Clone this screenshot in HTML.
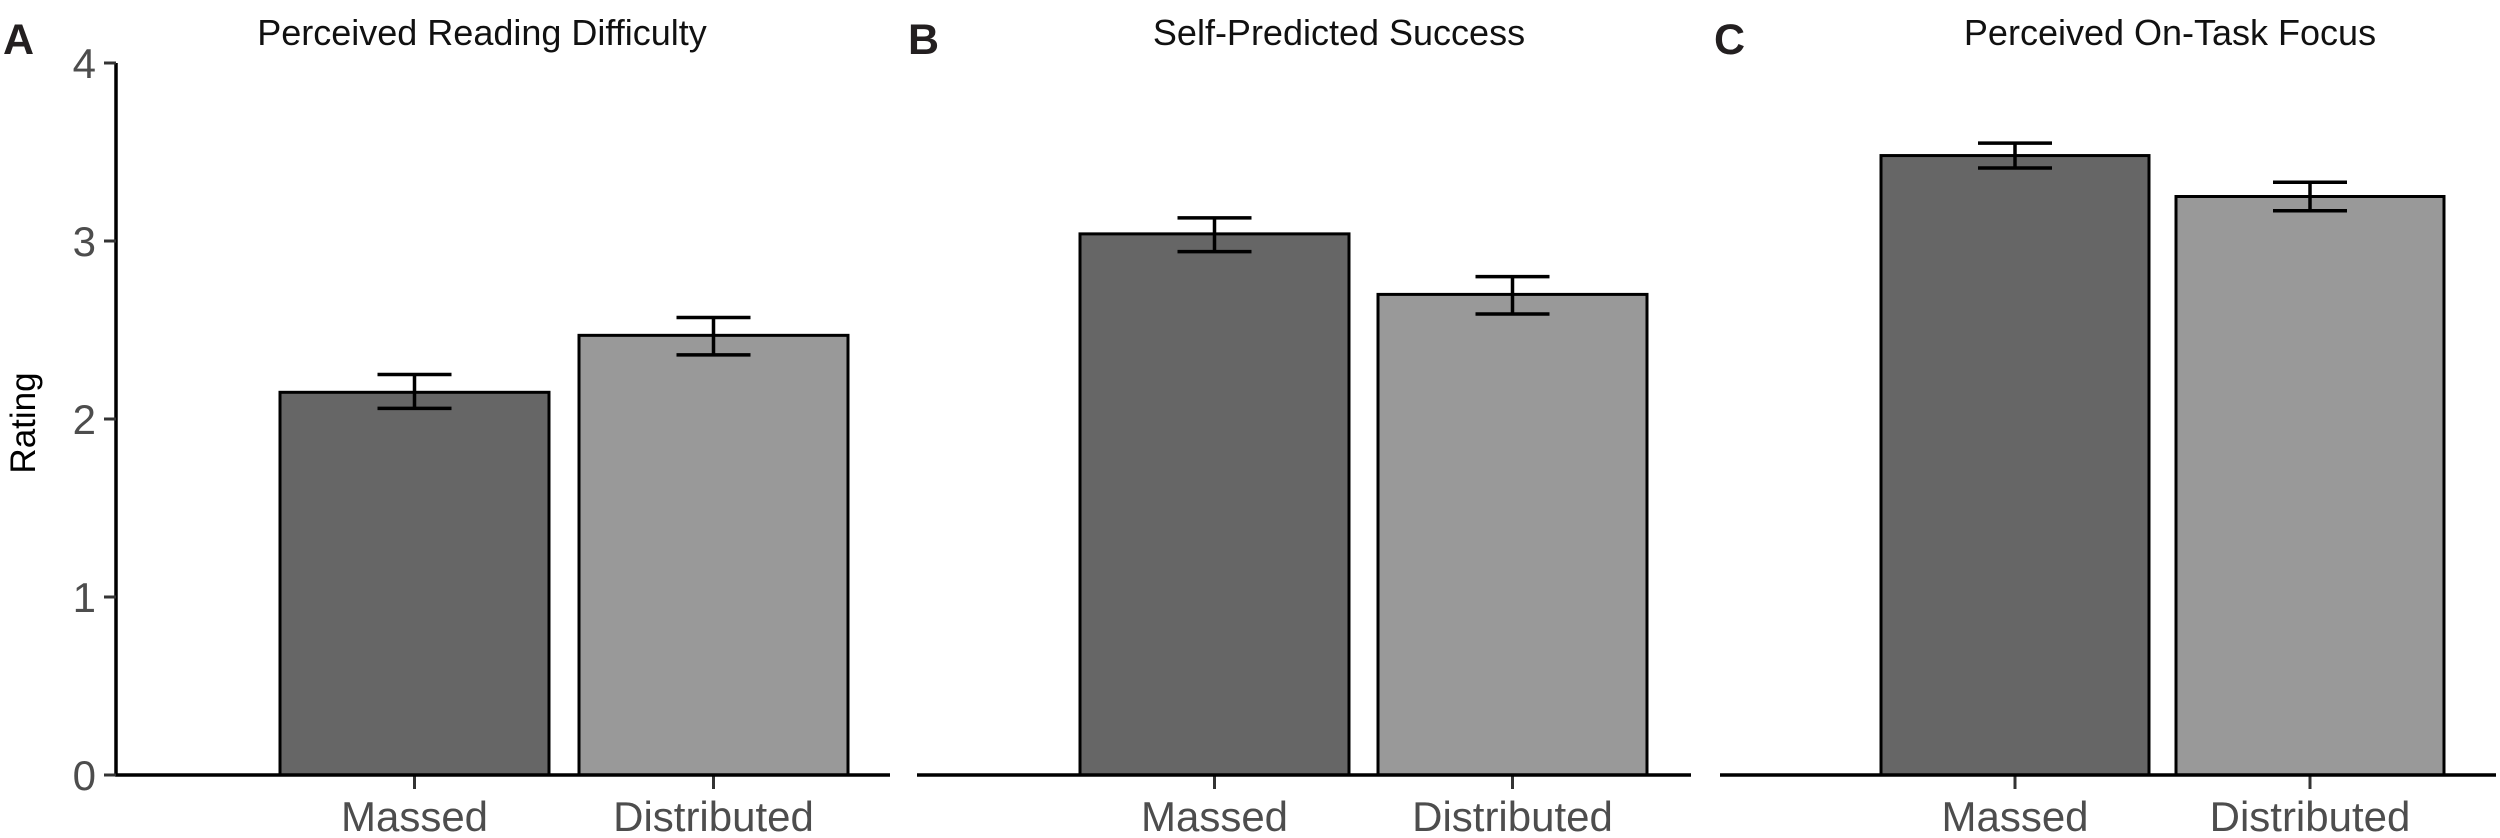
<!DOCTYPE html>
<html><head><meta charset="utf-8"><style>
html,body{margin:0;padding:0;background:#fff;}
svg{display:block;font-family:"Liberation Sans",Arial,sans-serif;}
</style></head><body>
<svg id="chart" width="2500" height="838" viewBox="0 0 2500 838"></svg>
<script>
const categories = ["Massed", "Distributed"];
const panelTitles = ["Perceived Reading Difficulty", "Self-Predicted Success", "Perceived On-Task Focus"];
const panelLetters = ["A", "B", "C"];
const meansA = [2.15, 2.47];
const meansB = [3.04, 2.70];
const meansC = [3.48, 3.25];
const lowA = [2.06, 2.36];
const highA = [2.25, 2.57];
const lowB = [2.94, 2.59];
const highB = [3.13, 2.80];
const lowC = [3.41, 3.17];
const highC = [3.55, 3.33];
const yTicks = [0, 1, 2, 3, 4];
const yTickLabels = ["0", "1", "2", "3", "4"];

const svg = document.getElementById('chart');
const NS = 'http://www.w3.org/2000/svg';
const y0 = 775, pxPerUnit = 178;
function yScale(v){ return y0 - v * pxPerUnit; }
const panels = [
  {lineStart:115, lineEnd:890, barStart:280, band:299, barW:269, titleX:482, letterX:3, means:meansA, low:lowA, high:highA},
  {lineStart:917, lineEnd:1691, barStart:1080, band:298, barW:269, titleX:1339, letterX:908, means:meansB, low:lowB, high:highB},
  {lineStart:1720, lineEnd:2496, barStart:1881, band:295, barW:268, titleX:2170, letterX:1714, means:meansC, low:lowC, high:highC}
];
const fills = ["#666666", "#999999"];
function mk(tag, attrs, parent){
  const e = document.createElementNS(NS, tag);
  for (const k in attrs) e.setAttribute(k, attrs[k]);
  (parent || svg).appendChild(e);
  return e;
}
panels.forEach((p, pi) => {
  const g = mk('g', {});
  
  
  const lt = mk('text', {x:p.letterX, y:54, 'font-size':43, 'font-weight':'bold', fill:'#231f20'}, g);
  lt.textContent = panelLetters[pi];
  
  
  const tt = mk('text', {x:p.titleX, y:45, 'font-size':36, 'text-anchor':'middle', fill:'#111'}, g);
  tt.textContent = panelTitles[pi];
  
  
  categories.forEach((c, i) => {
    const x = p.barStart + i * p.band;
    const v = p.means[i];
    const r = mk('rect', {x:x, y:yScale(v), width:p.barW, height:y0 - yScale(v), fill:fills[i], stroke:'#000', 'stroke-width':3}, g);
    
    
    const cx = x + p.barW / 2;
    const eb = mk('path', {d:`M${cx-37},${yScale(p.high[i])}H${cx+37}M${cx},${yScale(p.high[i])}V${yScale(p.low[i])}M${cx-37},${yScale(p.low[i])}H${cx+37}`, stroke:'#000', 'stroke-width':3.5, fill:'none'}, g);
    
    
    const tk = mk('line', {x1:cx, x2:cx, y1:y0, y2:y0 + 14, stroke:'#333', 'stroke-width':3}, g);
    
    
    const tl = mk('text', {x:cx, y:831, 'font-size':42, 'text-anchor':'middle', fill:'#4d4d4d'}, g);
    tl.textContent = c;
    
    
  });
  const ax = mk('line', {x1:p.lineStart, x2:p.lineEnd, y1:y0, y2:y0, stroke:'#000', 'stroke-width':3.5}, g);
  
  
});
const ya = mk('line', {x1:116, x2:116, y1:yScale(4), y2:y0 + 1.5, stroke:'#000', 'stroke-width':3.5});


yTicks.forEach((t, i) => {
  const tk = mk('line', {x1:104, x2:116, y1:yScale(t), y2:yScale(t), stroke:'#333', 'stroke-width':3});
  
  
  const tl = mk('text', {x:96, y:yScale(t) + 15, 'font-size':42, 'text-anchor':'end', fill:'#4d4d4d'});
  tl.textContent = yTickLabels[i];
  
  
});
const yt = mk('text', {x:0, y:0, 'font-size':35, 'text-anchor':'middle', fill:'#000', transform:'translate(35,423) rotate(-90)'});
yt.textContent = 'Rating';


</script>
</body></html>
